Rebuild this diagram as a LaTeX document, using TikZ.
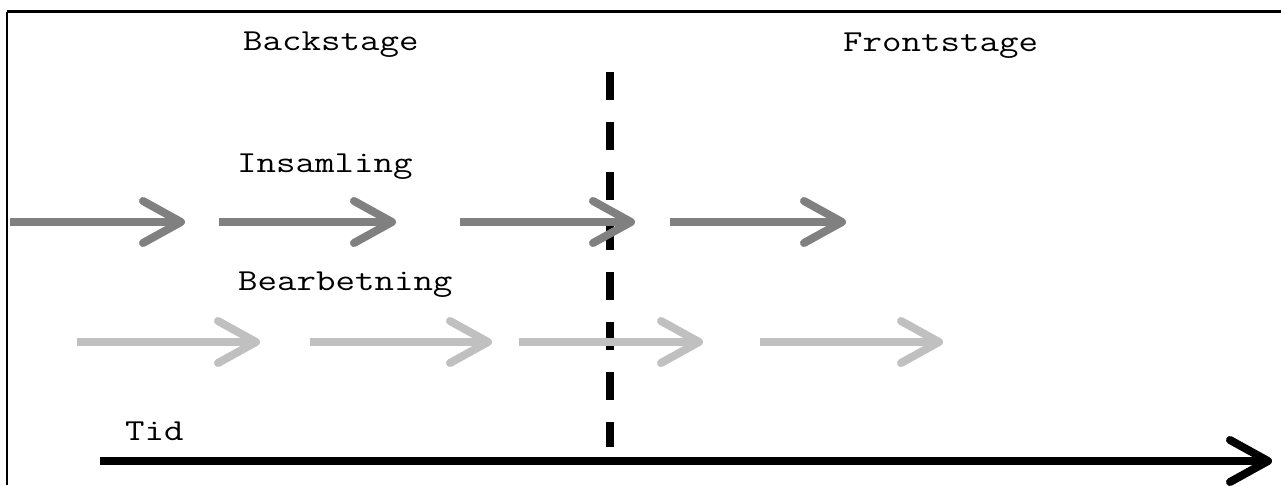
\documentclass[tikz,border=0pt]{standalone}
\usepackage{fontspec}
\usetikzlibrary{arrows.meta}
\definecolor{darkg}{HTML}{808080}
\definecolor{lightg}{HTML}{C0C0C0}
\newcommand{\courtext}[1]{\scalebox{1.24}[1]{#1}}
\tikzset{
  lbl/.style={inner sep=0pt, anchor=base west, font=\ttfamily\fontsize{30.5}{36}\selectfont},
  barb/.style={-{Straight Barb[length=38pt,width=42pt,line cap=round,line join=round]}},
  darkarrow/.style={barb, draw=darkg, line width=8pt},
  lightarrow/.style={barb, draw=lightg, line width=8pt},
  timearrow/.style={barb, draw=black, line width=8pt},
  divider/.style={draw=black, line width=8pt, dash pattern=on 28pt off 22pt},
  topline/.style={draw=black, line width=2.4pt},
  leftline/.style={draw=black, line width=1.6pt}
}
\begin{document}
\begin{tikzpicture}[x=1pt,y=-1pt]
\useasboundingbox (0,0) rectangle (1281,485);
% frame
\coordinate (fl) at (7,485);
\coordinate (fc) at (7,11.5);
\coordinate (fr) at (1281,11.5);
\draw[leftline] (fl) -- (fc);
\draw[topline] (fc) -- (fr);
% labels
\node[lbl] (back) at (243,50) {\courtext{Backstage}};
\node[lbl] (front) at (843,51) {\courtext{Frontstage}};
\node[lbl] (ins) at (237,172) {\courtext{Insamling}};
\node[lbl] (bear) at (238,290) {\courtext{Bearbetning}};
\node[lbl] (tid) at (125,440) {\courtext{Tid}};
% divider
\coordinate (dtop) at (610,72);
\coordinate (dbot) at (610,447);
\draw[divider] (dtop) -- (dbot);
% Insamling arrows
\coordinate (a1s) at (10,222);  \coordinate (a1e) at (185,222);
\coordinate (a2s) at (219,222); \coordinate (a2e) at (396,222);
\coordinate (a3s) at (460,222); \coordinate (a3e) at (635,222);
\coordinate (a4s) at (670,222); \coordinate (a4e) at (846,222);
\draw[darkarrow] (a1s) -- (a1e);
\draw[darkarrow] (a2s) -- (a2e);
\draw[darkarrow] (a3s) -- (a3e);
\draw[darkarrow] (a4s) -- (a4e);
% Bearbetning arrows
\coordinate (b1s) at (77,342);  \coordinate (b1e) at (260,342);
\coordinate (b2s) at (310,342); \coordinate (b2e) at (492,342);
\coordinate (b3s) at (519,342); \coordinate (b3e) at (703,342);
\coordinate (b4s) at (760,342); \coordinate (b4e) at (943,342);
\draw[lightarrow] (b1s) -- (b1e);
\draw[lightarrow] (b2s) -- (b2e);
\draw[lightarrow] (b3s) -- (b3e);
\draw[lightarrow] (b4s) -- (b4e);
% time axis
\coordinate (ts) at (100,461);
\coordinate (te) at (1272,461);
\draw[timearrow] (ts) -- (te);
\end{tikzpicture}
\end{document}
